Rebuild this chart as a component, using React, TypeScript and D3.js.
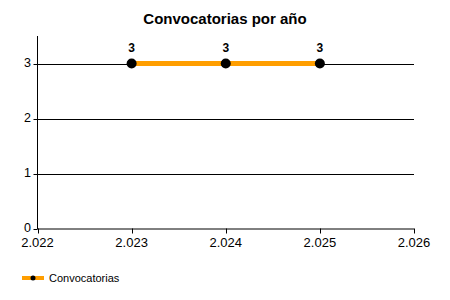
import React from "react";
import * as d3 from "d3";

const years = [2023, 2024, 2025];
const counts = [3, 3, 3];
const xTicks = [2022, 2023, 2024, 2025, 2026];
const yTicks = [0, 1, 2, 3];
const title = "Convocatorias por año";
const seriesName = "Convocatorias";

const fmt = (v: number) => {
  const s = String(v);
  return s.length > 3 ? s.slice(0, s.length - 3) + "." + s.slice(-3) : s;
};

export default function App() {
  const W = 450, H = 300;
  const left = 37.5, right = 414, top = 36, bottom = 228.5;
  const x = d3.scaleLinear().domain([2022, 2026]).range([left, right]);
  const y = d3.scaleLinear().domain([0, 3.5]).range([bottom, top]);
  const line = d3.line<number>().x((_, i) => x(years[i])).y((d) => y(d));
  const font = "'Liberation Sans', Arial, sans-serif";
  return (
    <svg width={W} height={H} style={{ position: "absolute", left: 0, top: 0, background: "#fff" }} fontFamily={font}>
      <rect x={0} y={0} width={W} height={H} fill="#fff" />
      <text x={225} y={24} textAnchor="middle" fontSize={15} fontWeight="bold" fill="#000">{title}</text>
      {yTicks.map((t) => (
        <g key={t}>
          {t > 0 && <line x1={left} x2={right} y1={Math.round(y(t)) + 0.5} y2={Math.round(y(t)) + 0.5} stroke="#000" />}
          <line x1={left - 4} x2={left} y1={Math.round(y(t)) + 0.5} y2={Math.round(y(t)) + 0.5} stroke="#000" />
          <text x={31} y={y(t) + 3.5} textAnchor="end" fontSize={12.5} fill="#000">{t}</text>
        </g>
      ))}
      <line x1={left} x2={left} y1={top} y2={bottom + 0.5} stroke="#000" />
      <line x1={left} x2={right} y1={bottom + 0.5} y2={bottom + 0.5} stroke="#000" />
      {xTicks.map((t) => (
        <g key={t}>
          <line x1={Math.round(x(t)) + 0.5} x2={Math.round(x(t)) + 0.5} y1={bottom} y2={bottom + 5} stroke="#000" />
          <text x={x(t)} y={246.5} textAnchor="middle" fontSize={13} fill="#000">{fmt(t)}</text>
        </g>
      ))}
      <path d={line(counts) || ""} fill="none" stroke="#FF9E00" strokeWidth={5} />
      {counts.map((c, i) => (
        <g key={i}>
          <circle cx={x(years[i])} cy={y(c)} r={5} fill="#000" />
          <text x={x(years[i])} y={y(c) - 12} textAnchor="middle" fontSize={12} fontWeight="bold" fill="#000">{c}</text>
        </g>
      ))}
      <line x1={22} x2={44} y1={278} y2={278} stroke="#FF9E00" strokeWidth={4} />
      <circle cx={33} cy={278} r={2.5} fill="#000" />
      <text x={49} y={282} fontSize={11} fill="#000">{seriesName}</text>
    </svg>
  );
}
